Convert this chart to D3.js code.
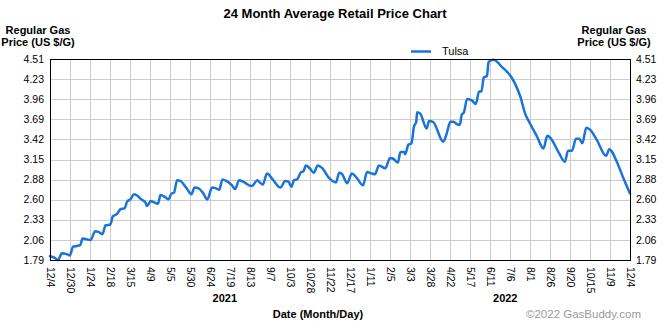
<!DOCTYPE html>
<html>
<head>
<meta charset="utf-8">
<script src="https://cdn.jsdelivr.net/npm/d3@7"></script>
<style>
  html, body { margin: 0; padding: 0; background: #fff; }
  svg { display: block; font-family: "Liberation Sans", Arial, sans-serif; }
</style>
</head>
<body>
<svg id="chart" width="670" height="325"></svg>
<script>
// ---- data (days since 2020-12-04, average price in US $/G) ----
const days = [0, 6, 10, 15, 21, 25, 29, 34, 38, 41, 46, 51, 57, 61, 66, 70, 76, 79, 84, 89,
  94, 97, 101, 106, 110, 115, 120, 122, 127, 131, 136, 139, 145, 149, 153, 156, 160, 164, 172, 178,
  182, 187, 193, 198, 204, 209, 213, 217, 222, 229, 233, 238, 243, 254, 261, 264, 268, 273, 281, 290,
  296, 300, 304, 307, 311, 316, 319, 322, 327, 332, 337, 342, 352, 360, 364, 367, 374, 380, 386, 394,
  399, 405, 409, 414, 422, 428, 432, 438, 441, 446, 447, 451, 455, 458, 461, 462, 466, 474, 477, 482,
  495, 499, 504, 508, 512, 516, 518, 521, 525, 531, 536, 540, 543, 546, 550, 552, 558, 562, 568, 575,
  581, 586, 592, 598, 604, 613, 621, 626, 630, 640, 648, 652, 657, 662, 666, 670, 675, 680, 688, 700,
  704, 707, 713, 722, 730];
const tulsa = [1.84, 1.82, 1.79, 1.88, 1.87, 1.85, 1.97, 1.98, 1.99, 2.08, 2.07, 2.06, 2.18, 2.17, 2.14, 2.26, 2.27, 2.38, 2.41, 2.48,
  2.49, 2.58, 2.61, 2.68, 2.66, 2.61, 2.57, 2.52, 2.59, 2.57, 2.55, 2.67, 2.64, 2.61, 2.69, 2.70, 2.87, 2.86, 2.76, 2.68,
  2.77, 2.76, 2.69, 2.61, 2.77, 2.76, 2.74, 2.88, 2.86, 2.80, 2.75, 2.87, 2.85, 2.79, 2.87, 2.84, 2.81, 2.96, 2.87, 2.77,
  2.86, 2.85, 2.78, 2.87, 2.88, 2.98, 2.99, 3.07, 3.03, 2.97, 3.07, 3.04, 2.89, 2.84, 2.97, 2.96, 2.83, 2.96, 2.90, 2.80,
  2.98, 2.96, 2.95, 3.07, 3.03, 3.17, 3.16, 3.11, 3.25, 3.25, 3.22, 3.35, 3.37, 3.59, 3.66, 3.79, 3.77, 3.57, 3.67, 3.66,
  3.39, 3.49, 3.66, 3.66, 3.63, 3.62, 3.75, 3.79, 3.97, 3.95, 3.90, 4.07, 4.07, 4.26, 4.28, 4.47, 4.50, 4.48, 4.41, 4.34,
  4.26, 4.16, 4.00, 3.77, 3.64, 3.46, 3.30, 3.47, 3.44, 3.25, 3.12, 3.27, 3.27, 3.43, 3.43, 3.37, 3.58, 3.55, 3.42, 3.20,
  3.29, 3.26, 3.13, 2.89, 2.69];
const seriesName = "Tulsa";
const xTickLabels = ["12/4", "12/30", "1/24", "2/18", "3/15", "4/9", "5/5", "5/30", "6/24", "7/19",
  "8/13", "9/7", "10/3", "10/28", "11/22", "12/17", "1/11", "2/5", "3/3", "3/28",
  "4/22", "5/17", "6/11", "7/6", "8/1", "8/26", "9/20", "10/15", "11/9", "12/4"];
const yTickLabels = ["1.79", "2.06", "2.33", "2.60", "2.88", "3.15", "3.42", "3.69", "3.96", "4.23", "4.51"];
const yearLabels = ["2021", "2022"];
const yearDays = [220, 573];

// ---- layout ----
const svg = d3.select("#chart");
const L = 50, R = 630, T = 59, B = 260;
const totalDays = 730;
const yMin = +yTickLabels[0], yMax = +yTickLabels[yTickLabels.length - 1];

const x = d3.scaleLinear().domain([0, totalDays]).range([L, R]);
const y = d3.scaleLinear().domain([yMin, yMax]).range([B, T]);

const xTickDays = xTickLabels.map((_, i) => i * totalDays / (xTickLabels.length - 1));
const yTickVals = yTickLabels.map((_, i) => yMin + i * (yMax - yMin) / (yTickLabels.length - 1));

// grid
const grid = svg.append("g");
grid.selectAll("line.v").data(xTickDays).join("line")
  .attr("x1", d => Math.round(x(d)) + 0.5).attr("x2", d => Math.round(x(d)) + 0.5)
  .attr("y1", T).attr("y2", B)
  .attr("stroke", "#cccccc").attr("stroke-width", 1);
grid.selectAll("line.h").data(yTickVals).join("line")
  .attr("x1", L).attr("x2", R)
  .attr("y1", d => Math.round(y(d)) + 0.5).attr("y2", d => Math.round(y(d)) + 0.5)
  .attr("stroke", "#cccccc").attr("stroke-width", 1);

// line
const pts = days.map((d, i) => [d, tulsa[i]]);
svg.append("path")
  .datum(pts)
  .attr("fill", "none")
  .attr("stroke", "#1a73d8")
  .attr("stroke-width", 2.5)
  .attr("stroke-linejoin", "round")
  .attr("stroke-linecap", "round")
  .attr("d", d3.line().x(d => x(d[0])).y(d => y(d[1])).curve(d3.curveMonotoneX));

// border
svg.append("rect")
  .attr("x", L + 0.5).attr("y", T + 0.5)
  .attr("width", R - L).attr("height", B - T)
  .attr("fill", "none").attr("stroke", "#000").attr("stroke-width", 1);

// y tick labels
svg.selectAll("text.yl").data(yTickVals).join("text")
  .attr("x", L - 6).attr("y", d => y(d)).attr("dy", "0.35em")
  .attr("text-anchor", "end").attr("font-size", 10.5).attr("fill", "#000")
  .text((d, i) => yTickLabels[i]);
svg.selectAll("text.yr").data(yTickVals).join("text")
  .attr("x", R + 6).attr("y", d => y(d)).attr("dy", "0.35em")
  .attr("text-anchor", "start").attr("font-size", 10.5).attr("fill", "#000")
  .text((d, i) => yTickLabels[i]);

// x tick labels (rotated)
svg.selectAll("text.xl").data(xTickDays).join("text")
  .attr("transform", d => `translate(${x(d) + 0.5},${B + 7}) rotate(90)`)
  .attr("dy", "0.35em")
  .attr("text-anchor", "start").attr("font-size", 10.5).attr("fill", "#000")
  .text((d, i) => xTickLabels[i]);

// year labels
svg.selectAll("text.yearl").data(yearDays).join("text")
  .attr("x", d => x(d)).attr("y", 302)
  .attr("text-anchor", "middle").attr("font-size", 11).attr("font-weight", "bold")
  .text((d, i) => yearLabels[i]);

// titles
svg.append("text").attr("x", 335).attr("y", 18).attr("text-anchor", "middle")
  .attr("font-size", 13).attr("font-weight", "bold").text("24 Month Average Retail Price Chart");

[38, 614].forEach(cx => {
  const t = svg.append("text").attr("text-anchor", "middle")
    .attr("font-size", 11).attr("font-weight", "bold");
  t.append("tspan").attr("x", cx).attr("y", 34).text("Regular Gas");
  t.append("tspan").attr("x", cx).attr("y", 46).text("Price (US $/G)");
});

svg.append("text").attr("x", 318).attr("y", 318).attr("text-anchor", "middle")
  .attr("font-size", 11).attr("font-weight", "bold").text("Date (Month/Day)");

svg.append("text").attr("x", 641).attr("y", 318).attr("text-anchor", "end")
  .attr("font-size", 11.5).attr("fill", "#999999").text("\u00a92022 GasBuddy.com");

// legend
const lg = svg.append("g");
lg.append("line").attr("x1", 411).attr("x2", 431).attr("y1", 51.5).attr("y2", 51.5)
  .attr("stroke", "#1a73d8").attr("stroke-width", 2.5);
lg.append("text").attr("x", 442).attr("y", 55).attr("font-size", 11).text(seriesName);
</script>
</body>
</html>
